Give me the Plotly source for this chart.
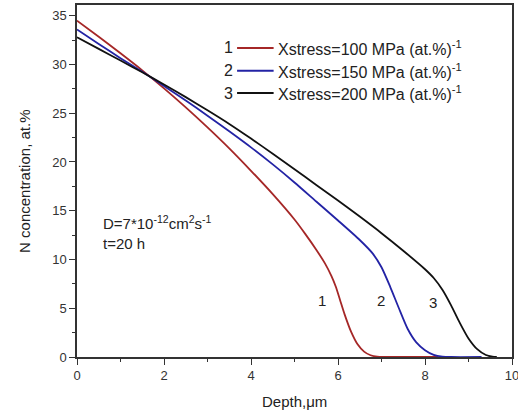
import plotly.graph_objects as go

# Curve 1: Xstress = 100 MPa (at.%)^-1
x1 = [0, 0.5, 1.0, 1.5, 2.0, 2.5, 3.0, 3.5, 4.0, 4.5, 5.0, 5.25, 5.5, 5.7, 5.85, 5.95, 6.05, 6.15, 6.3, 6.45, 6.6, 6.75, 6.9, 7.05, 8.3]
y1 = [34.5, 32.85, 31.15, 29.4, 27.55, 25.6, 23.55, 21.4, 19.1, 16.7, 14.1, 12.6, 11.0, 9.6, 8.3, 7.2, 5.8, 4.4, 2.6, 1.3, 0.55, 0.18, 0.03, 0, 0]

# Curve 2: Xstress = 150 MPa (at.%)^-1
x2 = [0, 0.5, 1.0, 1.5, 2.0, 2.5, 3.0, 3.5, 4.0, 4.5, 5.0, 5.5, 6.0, 6.5, 6.8, 7.0, 7.2, 7.4, 7.6, 7.8, 8.0, 8.2, 8.4, 8.6, 9.3]
y2 = [33.6, 32.1, 30.65, 29.25, 27.8, 26.3, 24.75, 23.15, 21.5, 19.75, 17.9, 15.95, 14.0, 12.0, 10.6, 9.2, 7.2, 5.0, 2.9, 1.5, 0.7, 0.22, 0.04, 0, 0]

# Curve 3: Xstress = 200 MPa (at.%)^-1
x3 = [0, 0.5, 1.0, 1.5, 2.0, 2.5, 3.0, 3.5, 4.0, 4.5, 5.0, 5.5, 6.0, 6.5, 7.0, 7.5, 8.0, 8.2, 8.4, 8.6, 8.8, 9.0, 9.2, 9.4, 9.55, 9.65]
y3 = [32.8, 31.6, 30.4, 29.2, 27.95, 26.65, 25.3, 23.9, 22.4, 20.85, 19.25, 17.65, 16.05, 14.4, 12.7, 10.9, 9.0, 8.1, 6.9, 5.3, 3.5, 1.9, 0.8, 0.2, 0.03, 0]

names = ["Xstress=100 MPa (at.%)<sup>-1</sup>",
         "Xstress=150 MPa (at.%)<sup>-1</sup>",
         "Xstress=200 MPa (at.%)<sup>-1</sup>"]
colors = ["#a52727", "#2323a5", "#111111"]
labels = ["1", "2", "3"]
label_x = [5.64, 6.98, 8.18]
label_y = [5.8, 5.8, 5.6]

FONT = "Liberation Sans, Arial, sans-serif"

fig = go.Figure()
for xs, ys, c, n in zip([x1, x2, x3], [y1, y2, y3], colors, names):
    fig.add_trace(go.Scatter(x=xs, y=ys, mode="lines", name=n,
                             line=dict(color=c, width=1.8, shape="spline", smoothing=0.6),
                             showlegend=False))

# Curve labels
for lx, ly, t in zip(label_x, label_y, labels):
    fig.add_annotation(x=lx, y=ly, text=t, showarrow=False, xref="x", yref="y",
                       font=dict(size=15, color="#222", family=FONT))

# Manual legend
leg_y = [0.878, 0.813, 0.75]
for ly, c, n, t in zip(leg_y, colors, names, labels):
    fig.add_shape(type="line", xref="paper", yref="paper",
                  x0=0.368, x1=0.452, y0=ly, y1=ly, line=dict(color=c, width=2))
    fig.add_annotation(x=0.364, y=ly, xref="paper", yref="paper", text=t,
                       showarrow=False, xanchor="right", yanchor="middle",
                       font=dict(size=16, color="#222", family=FONT))
    fig.add_annotation(x=0.458, y=ly, xref="paper", yref="paper", text=n,
                       showarrow=False, xanchor="left", yanchor="middle",
                       font=dict(size=16, color="#222", family=FONT))

fig.add_annotation(x=0.056, y=0.355, xref="paper", yref="paper",
                   text="D=7*10<sup>-12</sup>cm<sup>2</sup>s<sup>-1</sup><br>t=20 h",
                   showarrow=False, xanchor="left", yanchor="middle", align="left",
                   font=dict(size=15, color="#222", family=FONT))

# Axis titles
fig.add_annotation(x=0.5, y=-0.125, xref="paper", yref="paper", text="Depth,μm",
                   showarrow=False, xanchor="center", yanchor="middle",
                   font=dict(size=15, color="#222", family=FONT))
fig.add_annotation(x=-0.122, y=0.5, xref="paper", yref="paper", text="N concentration, at.%",
                   showarrow=False, xanchor="center", yanchor="middle", textangle=-90,
                   font=dict(size=15, color="#222", family=FONT))

axis_common = dict(showgrid=False, zeroline=False, showline=True, linecolor="#333",
                   linewidth=1.5, mirror=True, ticks="outside", ticklen=6, tickwidth=1.2,
                   tickcolor="#333", automargin=False, ticklabeloverflow="allow",
                   tickfont=dict(size=13, color="#333", family=FONT))

fig.update_xaxes(range=[0, 10], dtick=2, tick0=0,
                 minor=dict(dtick=1, ticks="outside", ticklen=3, tickcolor="#333"),
                 **axis_common)
fig.update_yaxes(range=[0, 36.1], dtick=5, tick0=0,
                 minor=dict(dtick=2.5, ticks="outside", ticklen=3, tickcolor="#333"),
                 **axis_common)

fig.update_layout(width=518, height=414, margin=dict(l=77, r=6, t=5, b=57),
                  plot_bgcolor="white", paper_bgcolor="white",
                  font=dict(family=FONT))

fig.write_html("out.html")
